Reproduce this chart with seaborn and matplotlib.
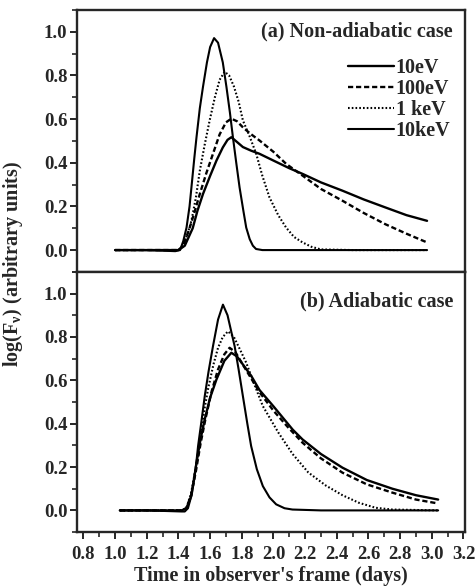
import numpy as np
import pandas as pd
import matplotlib
matplotlib.use("Agg")
import matplotlib.pyplot as plt
from matplotlib.ticker import MultipleLocator, FormatStrFormatter
import seaborn as sns

# ---- data ----
labels = ["10eV", "100eV", "1 keV", "10keV"]

# (a) non-adiabatic case
a_10ev_x = [1.00, 1.40, 1.44, 1.49, 1.52, 1.555, 1.60, 1.64, 1.68, 1.71, 1.734, 1.77, 1.807, 1.86,
            1.912, 2.00, 2.10, 2.184, 2.30, 2.436, 2.57, 2.708, 2.84, 2.97]
a_10ev_y = [0, 0, 0.02, 0.10, 0.18, 0.257, 0.34, 0.41, 0.47, 0.505, 0.517, 0.495, 0.472, 0.455,
            0.441, 0.41, 0.375, 0.349, 0.31, 0.272, 0.232, 0.195, 0.16, 0.134]

a_100ev_x = [1.00, 1.40, 1.43, 1.47, 1.50, 1.535, 1.575, 1.618, 1.66, 1.70, 1.734, 1.77, 1.81, 1.86,
             1.912, 2.00, 2.08, 2.184, 2.30, 2.436, 2.57, 2.708, 2.84, 2.97]
a_100ev_y = [0, 0, 0.02, 0.10, 0.17, 0.257, 0.35, 0.441, 0.53, 0.585, 0.602, 0.59, 0.56, 0.53,
             0.502, 0.45, 0.395, 0.341, 0.28, 0.226, 0.17, 0.118, 0.075, 0.035]

a_1kev_x = [1.00, 1.40, 1.43, 1.46, 1.482, 1.51, 1.535, 1.565, 1.597, 1.63, 1.66, 1.692, 1.72, 1.75,
            1.78, 1.807, 1.85, 1.891, 1.93, 1.975, 2.03, 2.08, 2.13, 2.184, 2.24, 2.30, 2.5, 2.97]
a_1kev_y = [0, 0, 0.02, 0.08, 0.134, 0.24, 0.364, 0.48, 0.594, 0.70, 0.78, 0.817, 0.80, 0.75,
            0.68, 0.594, 0.52, 0.441, 0.34, 0.241, 0.16, 0.103, 0.06, 0.035, 0.015, 0.003, 0, 0]

a_10kev_x = [1.00, 1.20, 1.38, 1.41, 1.43, 1.451, 1.47, 1.482, 1.50, 1.514, 1.535, 1.555, 1.58, 1.60,
             1.625, 1.65, 1.68, 1.703, 1.725, 1.744, 1.765, 1.786, 1.81, 1.828, 1.85, 1.87, 1.89,
             1.93, 2.2, 2.5, 2.97]
a_10kev_y = [0, 0, -0.005, 0.0, 0.04, 0.103, 0.2, 0.287, 0.42, 0.517, 0.65, 0.748, 0.86, 0.93,
             0.971, 0.95, 0.86, 0.748, 0.63, 0.517, 0.40, 0.287, 0.18, 0.103, 0.05, 0.02, 0.005,
             0, 0, 0, 0]

# (b) adiabatic case
b_10ev_x = [1.03, 1.42, 1.45, 1.482, 1.514, 1.54, 1.566, 1.60, 1.64, 1.69, 1.734, 1.77, 1.81, 1.86,
            1.912, 2.00, 2.121, 2.184, 2.30, 2.436, 2.59, 2.751, 2.90, 3.04]
b_10ev_y = [0, 0, 0.01, 0.067, 0.22, 0.33, 0.42, 0.52, 0.604, 0.69, 0.727, 0.71, 0.67, 0.62,
            0.555, 0.48, 0.373, 0.327, 0.26, 0.197, 0.14, 0.10, 0.07, 0.05]

b_100ev_x = [1.03, 1.42, 1.45, 1.48, 1.51, 1.54, 1.57, 1.61, 1.65, 1.69, 1.723, 1.76, 1.80, 1.85,
             1.912, 2.00, 2.09, 2.184, 2.30, 2.436, 2.59, 2.751, 2.90, 3.04]
b_100ev_y = [0, 0, 0.01, 0.07, 0.18, 0.31, 0.42, 0.55, 0.65, 0.72, 0.75, 0.73, 0.68, 0.62,
             0.545, 0.46, 0.385, 0.312, 0.24, 0.174, 0.12, 0.082, 0.05, 0.032]

b_1kev_x = [1.03, 1.42, 1.45, 1.48, 1.51, 1.54, 1.565, 1.587, 1.62, 1.65, 1.68, 1.713, 1.75, 1.79,
            1.828, 1.88, 1.933, 1.99, 2.03, 2.121, 2.22, 2.33, 2.436, 2.54, 2.646, 2.75, 3.04]
b_1kev_y = [0, 0, 0.01, 0.08, 0.2, 0.34, 0.47, 0.56, 0.67, 0.75, 0.80, 0.826, 0.80, 0.74,
            0.681, 0.58, 0.481, 0.41, 0.36, 0.26, 0.175, 0.115, 0.07, 0.035, 0.012, 0.004, 0]

b_10kev_x = [1.03, 1.20, 1.42, 1.44, 1.46, 1.475, 1.492, 1.51, 1.524, 1.545, 1.566, 1.59, 1.618, 1.65,
             1.681, 1.71, 1.735, 1.755, 1.78, 1.807, 1.835, 1.859, 1.895, 1.933, 1.975, 2.017,
             2.07, 2.12, 2.3, 2.6, 3.04]
b_10kev_y = [0, 0, -0.005, -0.005, 0.01, 0.05, 0.112, 0.2, 0.297, 0.41, 0.527, 0.64, 0.757, 0.88,
             0.949, 0.90, 0.82, 0.757, 0.65, 0.527, 0.40, 0.297, 0.19, 0.112, 0.06, 0.028,
             0.01, 0.004, 0, 0, 0]

sns.set_style("ticks")
plt.rcParams["font.family"] = ["Liberation Serif", "DejaVu Serif"]
plt.rcParams["font.weight"] = "bold"
plt.rcParams["mathtext.fontset"] = "custom"
plt.rcParams["mathtext.rm"] = "Liberation Serif:bold"
plt.rcParams["mathtext.it"] = "Liberation Serif:bold"
plt.rcParams["mathtext.bf"] = "Liberation Serif:bold"
plt.rcParams["mathtext.default"] = "bf"

styles = [
    dict(linestyle="-", lw=1.7),
    dict(linestyle=(0, (2.2, 1.2)), lw=1.7),
    dict(linestyle=(0, (0.8, 1.0)), lw=1.5),
    dict(linestyle="-", lw=1.5),
]

fig = plt.figure(figsize=(4.76, 5.86), dpi=100)
ax_a = fig.add_axes([0.162, 0.536, 0.815, 0.447])
ax_b = fig.add_axes([0.162, 0.092, 0.815, 0.444])

series_a = [(a_10ev_x, a_10ev_y), (a_100ev_x, a_100ev_y), (a_1kev_x, a_1kev_y), (a_10kev_x, a_10kev_y)]
series_b = [(b_10ev_x, b_10ev_y), (b_100ev_x, b_100ev_y), (b_1kev_x, b_1kev_y), (b_10kev_x, b_10kev_y)]

for ax, series in [(ax_a, series_a), (ax_b, series_b)]:
    for (xs, ys), st in zip(series, styles):
        sns.lineplot(x=xs, y=ys, ax=ax, color="black", legend=False, sort=False, **st)
    ax.set_xlim(0.76, 3.21)
    ax.set_ylim(-0.1, 1.1)
    ax.xaxis.set_major_locator(MultipleLocator(0.2))
    ax.xaxis.set_minor_locator(MultipleLocator(0.1))
    ax.set_yticks([0.0, 0.2, 0.4, 0.6, 0.8, 1.0])
    ax.yaxis.set_minor_locator(MultipleLocator(0.1))
    ax.yaxis.set_major_formatter(FormatStrFormatter("%.1f"))
    ax.tick_params(which="major", direction="out", length=5, width=1.4, labelsize=13.5, pad=2)
    ax.tick_params(which="minor", direction="out", length=3.5, width=1.2)
    for sp in ax.spines.values():
        sp.set_visible(True)
        sp.set_linewidth(1.7)
    ax.set_xlabel("")
    ax.set_ylabel("")

ax_a.tick_params(labelbottom=False)
ax_b.tick_params(axis="x", which="major", pad=5)
ax_b.xaxis.set_major_formatter(FormatStrFormatter("%.1f"))

ax_a.text(0.969, 0.916, "(a) Non-adiabatic case", transform=ax_a.transAxes,
          ha="right", va="center", fontsize=14.5, fontweight="bold")
ax_b.text(0.969, 0.885, "(b) Adiabatic case", transform=ax_b.transAxes,
          ha="right", va="center", fontsize=14.5, fontweight="bold")

ax_a.legend(ax_a.lines[:4], labels, loc="upper right", bbox_to_anchor=(0.962, 0.815),
            frameon=False, fontsize=14.5, handlelength=2.25, handletextpad=0.1,
            labelspacing=0.05, borderaxespad=0, borderpad=0)

ax_b.set_xlabel("Time in observer's frame (days)", fontsize=14.5, fontweight="bold", labelpad=2)
fig.text(0.027, 0.55, r"log(F$_{\nu}$) (arbitrary units)", rotation=90,
         ha="center", va="center", fontsize=14.5, fontweight="bold")

fig.savefig("out.png", dpi=100)
